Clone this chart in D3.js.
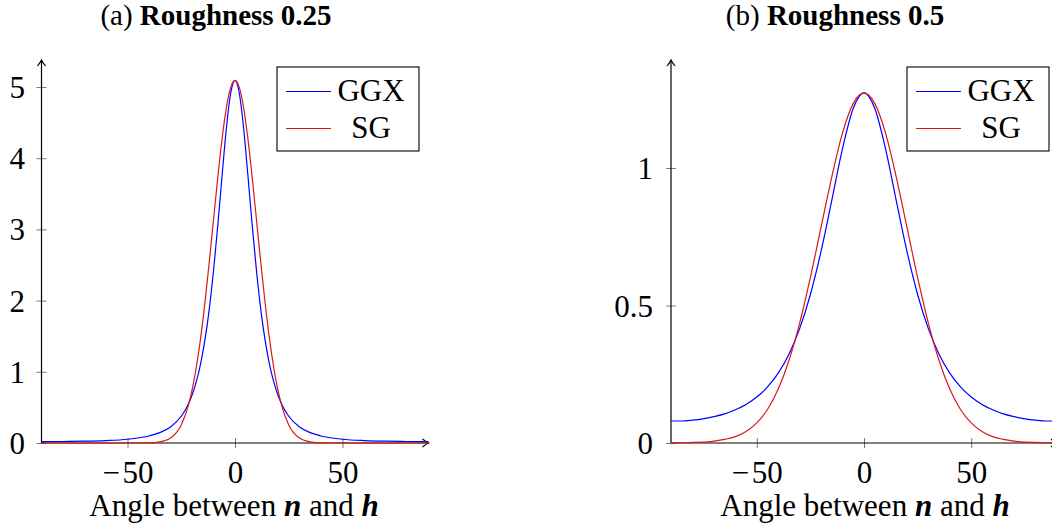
<!DOCTYPE html>
<html>
<head>
<meta charset="utf-8">
<script src="https://cdn.jsdelivr.net/npm/d3@7"></script>
<style>
  html, body { margin: 0; padding: 0; background: #fff; }
  svg { display: block; font-family: "Liberation Serif", "Times New Roman", serif; }
</style>
</head>
<body>
<svg id="chart" width="1052" height="527"></svg>
<script>
// ---------- data ----------
const seriesNames = ["GGX", "SG"];

// Panel (a): roughness 0.25
const anglesA = [-90,-80,-70,-60,-50,-40,-35,-30,-25,-22,-20,-18,-16,-14,-12,-10,-8,-6,-4,-2,0,
                 2,4,6,8,10,12,14,16,18,20,22,25,30,35,40,50,60,70,80,90];
const ggxA = [0.020,0.021,0.025,0.034,0.053,0.098,0.145,0.226,0.376,0.528,0.671,0.861,1.113,1.444,1.874,2.415,3.058,3.760,4.424,4.912,5.093,
              4.912,4.424,3.760,3.058,2.415,1.874,1.444,1.113,0.861,0.671,0.528,0.376,0.226,0.145,0.098,0.053,0.034,0.025,0.021,0.020];
const sgA  = [0,0,0,0,0.000,0.003,0.016,0.070,0.254,0.496,0.739,1.064,1.474,1.969,2.531,3.132,3.730,4.274,4.711,4.995,5.093,
              4.995,4.711,4.274,3.730,3.132,2.531,1.969,1.474,1.064,0.739,0.496,0.254,0.070,0.016,0.003,0.000,0,0,0,0];
const xTicksA = [-50, 0, 50];
const yTicksA = [0, 1, 2, 3, 4, 5];

// Panel (b): roughness 0.5
const anglesB = [-90,-85,-80,-75,-70,-65,-60,-55,-50,-45,-40,-35,-30,-25,-20,-15,-10,-5,0,
                 5,10,15,20,25,30,35,40,45,50,55,60,65,70,75,80,85,90];
const ggxB = [0.080,0.080,0.083,0.088,0.096,0.106,0.121,0.140,0.167,0.204,0.254,0.323,0.416,0.540,0.698,0.883,1.071,1.217,1.273,
              1.217,1.071,0.883,0.698,0.540,0.416,0.323,0.254,0.204,0.167,0.140,0.121,0.106,0.096,0.088,0.083,0.080,0.080];
const sgB  = [0.000,0.001,0.002,0.003,0.007,0.013,0.023,0.042,0.073,0.122,0.196,0.300,0.436,0.602,0.786,0.969,1.128,1.235,1.273,
              1.235,1.128,0.969,0.786,0.602,0.436,0.300,0.196,0.122,0.073,0.042,0.023,0.013,0.007,0.003,0.002,0.001,0.000];
const xTicksB = [-50, 0, 50];
const yTicksB = [0, 0.5, 1];

const titles = [["(a) ", "Roughness 0.25"], ["(b) ", "Roughness 0.5"]];
const xLabelParts = ["Angle between ", "n", " and ", "h"];

// ---------- drawing ----------
const svg = d3.select("#chart");
const COLORS = { GGX: "#0000ff", SG: "#e01515" };
const FS = 31;

const defs = svg.append("defs");
defs.append("marker")
  .attr("id", "arrow").attr("viewBox", "-8 -5 10 10")
  .attr("refX", 0).attr("refY", 0)
  .attr("markerWidth", 10).attr("markerHeight", 10)
  .attr("markerUnits", "userSpaceOnUse").attr("orient", "auto")
  .append("path")
  .attr("d", "M -6 -4 Q -2 -0.8 0 0 Q -2 0.8 -6 4")
  .attr("fill", "none").attr("stroke", "#000").attr("stroke-width", 1.2);

function fmt(v) {
  if (v < 0) return "\u2212\u200A" + Math.abs(v);
  return String(v);
}

function panel(cfg) {
  const g = svg.append("g");
  const x = d3.scaleLinear().domain([-90, 90]).range(cfg.xRange);
  const y = d3.scaleLinear().domain(cfg.yDomain).range(cfg.yRange);

  // y axis ticks (crossing the axis)
  const yAxis = d3.axisLeft(y).tickValues(cfg.yTicks).tickFormat(fmt).tickSize(5).tickSizeOuter(0);
  const gy = g.append("g").attr("transform", `translate(${x(-90)},0)`).call(yAxis);
  gy.select(".domain").remove();
  gy.selectAll(".tick line").attr("x1", -5).attr("x2", 5).attr("stroke", "#7a7a7a").attr("stroke-width", 1);
  gy.selectAll(".tick text")
    .attr("x", cfg.yLabelRight - x(-90)).attr("dy", null).attr("y", 10.5)
    .attr("text-anchor", "end").attr("fill", "#000")
    .style("font-family", "Liberation Serif").style("font-size", FS + "px");

  // x axis ticks
  const xAxis = d3.axisBottom(x).tickValues(cfg.xTicks).tickFormat(fmt).tickSize(5).tickSizeOuter(0);
  const gx = g.append("g").attr("transform", `translate(0,${y(0)})`).call(xAxis);
  gx.select(".domain").remove();
  gx.selectAll(".tick line").attr("y1", -5).attr("y2", 5).attr("stroke", "#7a7a7a").attr("stroke-width", 1);
  gx.selectAll(".tick text")
    .attr("dy", null).attr("y", 40).attr("fill", "#000")
    .style("font-family", "Liberation Serif").style("font-size", FS + "px");

  // axis lines with arrows
  g.append("line")
    .attr("x1", x(-90)).attr("y1", y(0)).attr("x2", x(-90)).attr("y2", cfg.yTop)
    .attr("stroke", "#000").attr("stroke-width", 1.2).attr("marker-end", "url(#arrow)");
  g.append("line")
    .attr("x1", x(-90)).attr("y1", y(0)).attr("x2", x(90)).attr("y2", y(0))
    .attr("stroke", "#000").attr("stroke-width", 1.2).attr("marker-end", "url(#arrow)");

  // curves
  const line = d3.line().x(d => x(d[0])).y(d => y(d[1])).curve(d3.curveMonotoneX);
  [["GGX", cfg.ggx], ["SG", cfg.sg]].forEach(([name, vals]) => {
    g.append("path")
      .datum(cfg.angles.map((a, i) => [a, vals[i]]))
      .attr("d", line)
      .attr("fill", "none").attr("stroke", COLORS[name]).attr("stroke-width", 1.2);
  });

  // legend
  const L = cfg.legend;
  g.append("rect").attr("x", L.x).attr("y", L.y).attr("width", L.w).attr("height", L.h)
    .attr("fill", "#fff").attr("stroke", "#000").attr("stroke-width", 1.1);
  seriesNames.forEach((name, i) => {
    const cy = L.y + 24.5 + i * 37;
    g.append("line").attr("x1", L.x + 9).attr("x2", L.x + 54).attr("y1", cy).attr("y2", cy)
      .attr("stroke", COLORS[name]).attr("stroke-width", 1.2);
    g.append("text").attr("x", L.x + 94).attr("y", cy + 9.5).attr("text-anchor", "middle")
      .style("font-size", FS + "px").text(name);
  });

  // title
  const t = g.append("text").attr("x", cfg.titleX).attr("y", 25).attr("text-anchor", "middle")
    .style("font-size", "29px");
  t.append("tspan").text(cfg.title[0]);
  t.append("tspan").attr("font-weight", "bold").text(cfg.title[1]);

  // x label
  const xl = g.append("text").attr("x", cfg.xLabelX).attr("y", 516).attr("text-anchor", "middle")
    .style("font-size", FS + "px");
  xLabelParts.forEach((p, i) => {
    const ts = xl.append("tspan").text(p);
    if (i % 2 === 1) ts.attr("font-weight", "bold").attr("font-style", "italic");
  });
}

panel({
  xRange: [41.5, 428.5], yDomain: [0, 5], yRange: [443, 87], yTop: 60,
  angles: anglesA, ggx: ggxA, sg: sgA, xTicks: xTicksA, yTicks: yTicksA,
  yLabelRight: 25,
  legend: { x: 277, y: 67, w: 142, h: 84 },
  title: titles[0], titleX: 216, xLabelX: 234
});
panel({
  xRange: [671, 1057], yDomain: [0, 1], yRange: [443, 168], yTop: 60,
  angles: anglesB, ggx: ggxB, sg: sgB, xTicks: xTicksB, yTicks: yTicksB,
  yLabelRight: 653,
  legend: { x: 907, y: 67, w: 142, h: 84 },
  title: titles[1], titleX: 835, xLabelX: 865
});
</script>
</body>
</html>
